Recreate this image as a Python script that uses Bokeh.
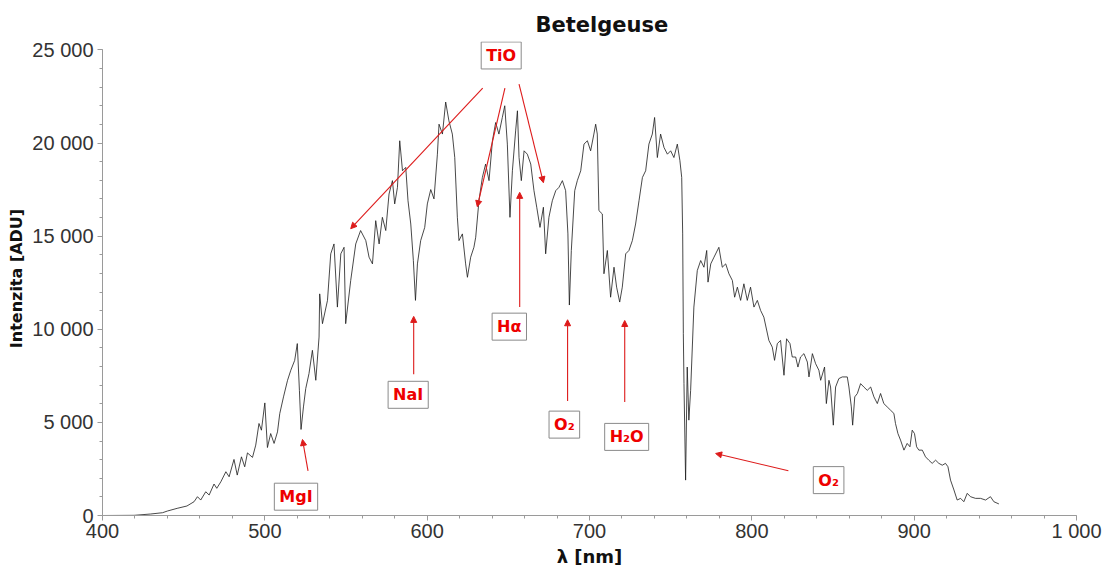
from bokeh.plotting import figure
from bokeh.models import Range1d, FixedTicker, Label, Arrow, NormalHead
from bokeh.embed import file_html
from bokeh.resources import INLINE

# ---- spectrum (nm, ADU) ----
wavelength = [400.0, 410.0, 419.5, 429.7, 437.0, 440.0, 446.0, 452.0, 456.4, 458.5, 460.5, 463.6, 465.7,
              468.7, 470.4, 472.9, 476.0, 478.0, 481.0, 483.0, 485.6, 487.6, 489.3, 492.4, 494.4, 496.4,
              497.9, 500.0, 501.6, 503.6, 505.7, 507.8, 509.2, 511.5, 514.0, 516.0, 518.4, 520.0, 521.3,
              522.3, 523.8, 525.2, 527.2, 529.3, 531.4, 533.4, 533.8, 535.5, 538.6, 540.6, 542.6, 544.7,
              546.8, 548.8, 549.8, 552.9, 556.0, 559.0, 562.2, 564.2, 566.3, 568.3, 570.4, 572.4, 574.5,
              576.5, 578.6, 580.0, 581.7, 583.1, 584.8, 586.8, 588.2, 589.9, 591.5, 592.8, 594.0, 596.0,
              598.5, 600.1, 602.2, 604.2, 606.3, 607.3, 609.4, 611.4, 613.4, 615.5, 617.0, 618.6, 619.6,
              621.7, 623.7, 624.8, 626.8, 628.8, 629.9, 631.9, 634.0, 636.0, 638.1, 640.2, 642.2, 644.2,
              646.3, 647.8, 649.4, 651.0, 652.5, 654.5, 655.6, 656.6, 658.0, 659.7, 661.7, 663.8, 665.8,
              667.5, 669.5, 671.6, 673.0, 675.0, 677.1, 679.2, 681.2, 683.3, 685.3, 686.7, 687.6, 688.8,
              690.9, 692.5, 694.6, 696.6, 698.7, 700.7, 702.7, 703.8, 704.8, 705.8, 707.9, 708.9, 711.0,
              713.0, 715.1, 716.7, 718.6, 720.2, 722.3, 724.3, 726.4, 728.4, 730.5, 732.6, 734.6, 736.6,
              738.7, 740.1, 741.8, 743.8, 745.9, 748.0, 750.0, 752.0, 754.1, 755.7, 756.8, 757.4, 757.8,
              758.2, 759.2, 760.2, 761.2, 762.3, 764.3, 766.4, 768.5, 770.5, 772.2, 773.0, 774.7, 776.7,
              779.7, 781.8, 783.9, 785.9, 788.0, 789.4, 791.1, 793.1, 795.1, 797.2, 799.2, 801.3, 803.4,
              805.4, 807.4, 810.5, 812.6, 814.0, 815.7, 817.7, 819.8, 821.4, 823.5, 824.9, 827.0, 828.4,
              830.0, 832.1, 834.2, 835.2, 837.3, 839.3, 841.3, 842.4, 844.8, 845.9, 847.5, 848.5, 850.2,
              851.6, 853.6, 855.7, 858.8, 859.8, 861.3, 862.1, 863.4, 865.0, 867.0, 869.0, 871.1, 873.2,
              875.2, 877.3, 879.3, 881.3, 883.4, 885.5, 887.5, 888.5, 890.0, 891.6, 893.7, 895.7, 897.4,
              898.8, 900.2, 901.5, 902.9, 905.0, 907.0, 909.0, 911.1, 913.2, 915.2, 917.3, 919.3, 920.8,
              922.4, 924.5, 926.5, 928.6, 930.6, 932.7, 934.7, 937.8, 940.9, 944.0, 947.0, 949.1, 952.2]

intensity = [0, 5, 10, 80, 150, 240, 385, 510, 740, 1010, 830, 1275, 1100,
             1690, 1460, 1810, 2350, 2080, 3010, 2170, 3150, 2615, 3360, 3120, 3780, 4940,
             4580, 6045, 3650, 4400, 3870, 4490, 5475, 6370, 7260, 7800, 8330, 9230, 6720,
             4620, 5830, 6815, 7620, 8870, 7260, 9580, 11900, 10300, 11550, 14050, 14580, 11190,
             14050, 14400, 10300, 12620, 14580, 15300, 14760, 13870, 13510, 15830, 14580, 16010, 15300,
             17260, 17980, 16730, 17620, 20120, 18510, 18690, 16900, 15650, 13690, 11550, 13510, 14760,
             15470, 16730, 17500, 17000, 19400, 21010, 20480, 22200, 21190, 20480, 19220, 16010, 14760,
             15120, 13510, 12790, 13870, 14400, 14940, 16900, 18150, 18870, 17980, 20120, 21100, 20480,
             21370, 22000, 19940, 16010, 18510, 20650, 21730, 19220, 17980, 19580, 19400, 18870, 17440,
             16550, 15470, 16550, 14050, 16010, 16900, 17440, 17620, 17980, 17440, 15120, 11300, 14230,
             17440, 17980, 18510, 19940, 20120, 19580, 20480, 21010, 20480, 16370, 16190, 12980, 14230,
             11720, 13330, 12260, 11460, 12260, 14050, 14230, 14760, 15650, 16900, 18150, 18510, 19940,
             20480, 21370, 19220, 20480, 19760, 19400, 19580, 19220, 19940, 19050, 18150, 15120, 9760,
             7080, 1900, 7970, 5120, 6720, 11190, 13150, 13690, 13330, 14230, 12530, 13510, 13870,
             14400, 13330, 13510, 12980, 12620, 11720, 12260, 11550, 12440, 11550, 12260, 11190, 11550,
             11010, 10650, 9400, 9040, 8330, 9230, 9400, 7530, 9490, 9230, 8510, 8510, 7970,
             8510, 8690, 8240, 7440, 8690, 8150, 7800, 7260, 7970, 6010, 7260, 6900, 4850,
             6900, 7350, 7440, 7440, 6900, 5830, 4850, 6370, 6550, 7080, 6900, 6720, 6900,
             6370, 6010, 6550, 6010, 5830, 5650, 5480, 4940, 4400, 4050, 3510, 3870, 3690,
             4580, 4400, 3690, 3510, 3510, 3150, 2970, 2800, 2970, 2800, 2700, 2800, 2620,
             1900, 1370, 830, 920, 740, 1190, 1010, 920, 920, 830, 1010, 740, 620]

# ---- axes ----
x_ticks = [400, 500, 600, 700, 800, 900, 1000]
x_tick_labels = ["400", "500", "600", "700", "800", "900", "1 000"]
y_ticks = [0, 5000, 10000, 15000, 20000, 25000]
y_tick_labels = ["0", "5 000", "10 000", "15 000", "20 000", "25 000"]
x_minor_step = 20
y_minor_step = 1000
y_view_top = 25450  # a little headroom above the last tick so the TiO box is not clipped

# ---- annotations ----
note_text = ["TiO", "H\u03b1", "NaI", "MgI", "O\u2082", "H\u2082O", "O\u2082"]
note_x = [645.6, 650.6, 588.3, 519.2, 684.5, 722.9, 847.3]
note_y = [24700, 10140, 6480, 1010, 4880, 4220, 1900]

arrow_x0 = [634.2, 647.9, 656.6, 657.0, 591.7, 526.6, 686.5, 721.7, 822.5]
arrow_y0 = [22940, 22940, 23160, 11190, 7580, 2400, 6150, 6100, 2400]
arrow_x1 = [552.9, 630.9, 671.6, 657.0, 591.7, 523.2, 686.5, 721.7, 777.7]
arrow_y1 = [15400, 16580, 17870, 17350, 10690, 4080, 10510, 10470, 3330]

RED = "#ee0000"
ARROW_RED = "#dd1a1a"
AXIS_GRAY = "#9a9a9a"

p = figure(width=1108, height=569, x_range=Range1d(400, 1000), y_range=Range1d(0, y_view_top),
           output_backend="svg", toolbar_location=None,
           min_border_left=102, min_border_right=32, min_border_top=41, min_border_bottom=54,
           title="Betelgeuse")
p.outline_line_color = None
p.grid.visible = False
p.background_fill_color = "white"
p.border_fill_color = "white"

p.title.align = "left"
p.title.offset = 433
p.title.text_font = "DejaVu Sans"
p.title.text_font_style = "bold"
p.title.text_font_size = "21px"
p.title.text_color = "#111111"
p.title.standoff = 10

p.line(wavelength, intensity, line_color="#1a1a1a", line_width=0.8)

p.xaxis.ticker = FixedTicker(ticks=x_ticks,
                             minor_ticks=list(range(x_ticks[0], x_ticks[-1] + 1, x_minor_step)))
p.yaxis.ticker = FixedTicker(ticks=y_ticks,
                             minor_ticks=list(range(y_ticks[0], y_ticks[-1] + 1, y_minor_step)))
p.xaxis.major_label_overrides = {t: s for t, s in zip(x_ticks, x_tick_labels)}
p.yaxis.major_label_overrides = {t: s for t, s in zip(y_ticks, y_tick_labels)}
p.yaxis.bounds = (y_ticks[0], y_ticks[-1])

for ax in (p.xaxis[0], p.yaxis[0]):
    ax.axis_line_color = AXIS_GRAY
    ax.major_tick_line_color = AXIS_GRAY
    ax.minor_tick_line_color = AXIS_GRAY
    ax.major_tick_out = 5
    ax.major_tick_in = 0
    ax.minor_tick_out = 3
    ax.minor_tick_in = 0
    ax.major_label_text_font = "Liberation Sans"
    ax.major_label_text_font_size = "20px"
    ax.major_label_text_color = "#333333"
    ax.axis_label_text_font = "DejaVu Sans"
    ax.axis_label_text_font_style = "bold"
    ax.axis_label_text_color = "#111111"

p.yaxis.axis_label = "Intenzita [ADU]"
p.yaxis.axis_label_text_font_size = "16px"
p.yaxis.major_label_standoff = 4
p.yaxis.axis_label_standoff = 3

p.xaxis.axis_label = "\u03bb [nm]"
p.xaxis.axis_label_text_font_size = "18px"
p.xaxis.major_label_standoff = -1
p.xaxis.axis_label_standoff = 1
p.xaxis.axis_label_text_baseline = "middle"

for t, x, y in zip(note_text, note_x, note_y):
    p.add_layout(Label(x=x, y=y, text=t, text_align="center", text_baseline="middle",
                       text_font="DejaVu Sans", text_font_style="bold", text_font_size="16px",
                       text_color=RED, background_fill_color="white",
                       border_line_color="#8a8a8a", border_line_width=1, padding=(5, 4)))

for xs, ys, xe, ye in zip(arrow_x0, arrow_y0, arrow_x1, arrow_y1):
    p.add_layout(Arrow(x_start=xs, y_start=ys, x_end=xe, y_end=ye,
                       line_color=ARROW_RED, line_width=1.1,
                       end=NormalHead(size=6, line_color=ARROW_RED, fill_color=ARROW_RED, line_width=1)))

open("out.html", "w").write(file_html(p, INLINE))
